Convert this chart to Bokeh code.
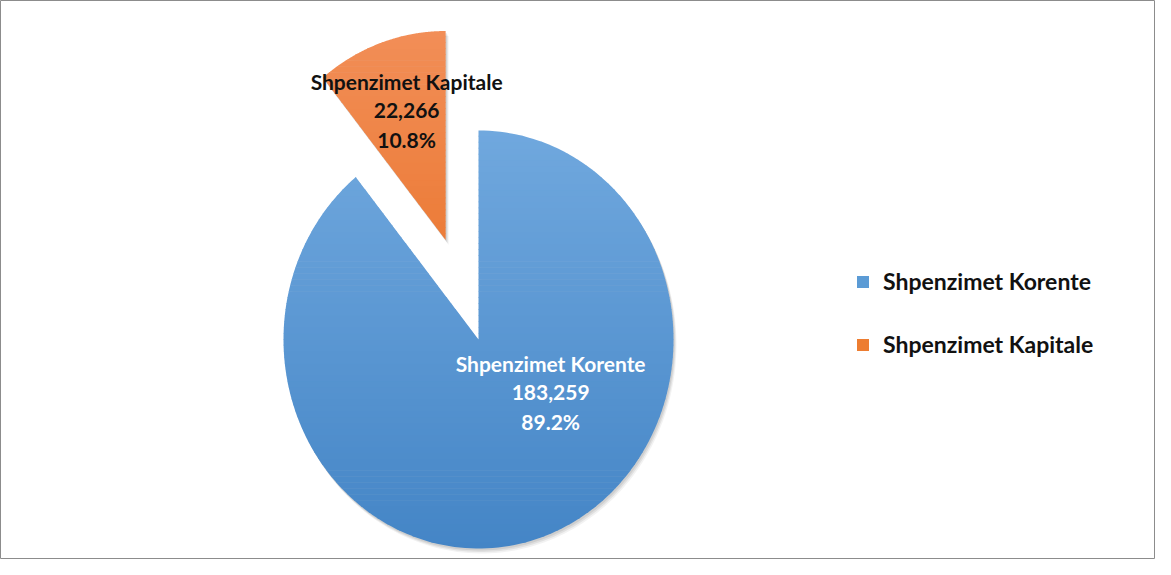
import numpy as np
from bokeh.plotting import figure
from bokeh.models import Range1d, Legend, LegendItem, ColumnDataSource
from bokeh.core.properties import value
from bokeh.embed import file_html
from bokeh.resources import INLINE

# ---- data ----
categories = ["Shpenzimet Korente", "Shpenzimet Kapitale"]
values = [183259, 22266]

# ---- styles ----
color_top = ["#70a8de", "#f28e57"]
color_bottom = ["#4485c6", "#e66a1a"]
color_legend = ["#5b9bd5", "#ed7d31"]
label_color = ["white", "#111111"]
explode = [0.0, 0.505]
FONT = "Lato"

W, H = 1155, 559
cx, cy = 478.0, 220.0
rx, ry = 195.0, 209.0
# label anchor offset as fraction of radii (x right, y up)
label_off = [(0.37, -0.255), (-0.20, 0.62)]

p = figure(width=W, height=H, output_backend="svg", toolbar_location=None,
           x_range=Range1d(0, W), y_range=Range1d(0, H), min_border=0)
p.axis.visible = False
p.grid.visible = False
p.outline_line_color = "#8c8c8c"
p.outline_line_width = 1
p.background_fill_color = "white"
p.border_fill_color = "white"


def clip(poly, yc, keep_above):
    out = []
    n = len(poly)
    for i in range(n):
        a = poly[i]
        b = poly[(i + 1) % n]
        ina = (a[1] >= yc) if keep_above else (a[1] <= yc)
        inb = (b[1] >= yc) if keep_above else (b[1] <= yc)
        if ina:
            out.append(a)
        if ina != inb:
            t = (yc - a[1]) / (b[1] - a[1])
            out.append((a[0] + t * (b[0] - a[0]), yc))
    return out


total = float(sum(values))
fracs = [v / total for v in values]
# clock angles (0 = 12 o'clock, clockwise)
starts = []
acc = 0.0
for f in fracs:
    starts.append(acc)
    acc += f
mid_angles = [2 * np.pi * (s + f / 2) for s, f in zip(starts, fracs)]
centers = []
for i in range(len(values)):
    m = mid_angles[i]
    centers.append((cx + explode[i] * rx * np.sin(m), cy + explode[i] * ry * np.cos(m)))


def sector(i):
    a0 = 2 * np.pi * starts[i]
    a1 = 2 * np.pi * (starts[i] + fracs[i])
    t = np.linspace(a0, a1, 200)
    ox, oy = centers[i]
    pts = [(ox, oy)] + [(ox + rx * np.sin(tt), oy + ry * np.cos(tt)) for tt in t]
    return pts


def hex2rgb(h):
    h = h.lstrip("#")
    return np.array([int(h[k:k + 2], 16) for k in (0, 2, 4)], dtype=float)


# shadows
for i in range(len(values)):
    pts = sector(i)
    for d, a in [(5, 0.05), (3.5, 0.07), (2, 0.08)]:
        p.patch([q[0] + d * 0.6 for q in pts], [q[1] - d for q in pts],
                fill_color="black", fill_alpha=a, line_color=None)

# gradient slices
N = 70
for i in range(len(values)):
    pts = sector(i)
    ox, oy = centers[i]
    ytop, ybot = oy + ry, oy - ry
    c0, c1 = hex2rgb(color_top[i]), hex2rgb(color_bottom[i])
    xs, ys, cols = [], [], []
    edges = np.linspace(ybot, ytop, N + 1)
    for k in range(N):
        lo, hi = edges[k], edges[k + 1] + 0.6
        poly = clip(clip(pts, lo, True), hi, False)
        if len(poly) < 3:
            continue
        f = 1 - ((lo + hi) / 2 - ybot) / (ytop - ybot)
        c = c0 + (c1 - c0) * f
        cols.append("#%02x%02x%02x" % tuple(int(round(v)) for v in c))
        xs.append([q[0] for q in poly])
        ys.append([q[1] for q in poly])
    src = ColumnDataSource(dict(xs=xs, ys=ys, c=cols))
    p.patches("xs", "ys", source=src, fill_color="c", line_color=None)

# data labels
for i in range(len(values)):
    ox, oy = centers[i]
    lx = ox + label_off[i][0] * rx
    ly = oy + label_off[i][1] * ry
    lines = [categories[i], f"{values[i]:,}", f"{values[i] / total * 100:.1f}%"]
    p.text(x=[lx] * 3, y=[ly + 29, ly, ly - 29], text=lines,
           text_align="center", text_baseline="middle",
           text_font=value(FONT), text_font_size="21px", text_font_style="bold",
           text_color=label_color[i])

# legend
items = []
for i in range(len(values)):
    r = p.quad(left=[np.nan], right=[np.nan], top=[np.nan], bottom=[np.nan],
               fill_color=color_legend[i], line_color=None)
    items.append(LegendItem(label=categories[i], renderers=[r]))
legend = Legend(items=items, location=(855, 201), orientation="vertical",
                glyph_width=15, glyph_height=15, label_standoff=13, spacing=35,
                padding=0, margin=0, border_line_color=None,
                background_fill_alpha=0,
                label_text_font=FONT, label_text_font_size="23px",
                label_text_font_style="bold", label_text_color="#111111")
p.add_layout(legend, "center")

open("out.html", "w").write(file_html(p, INLINE))
